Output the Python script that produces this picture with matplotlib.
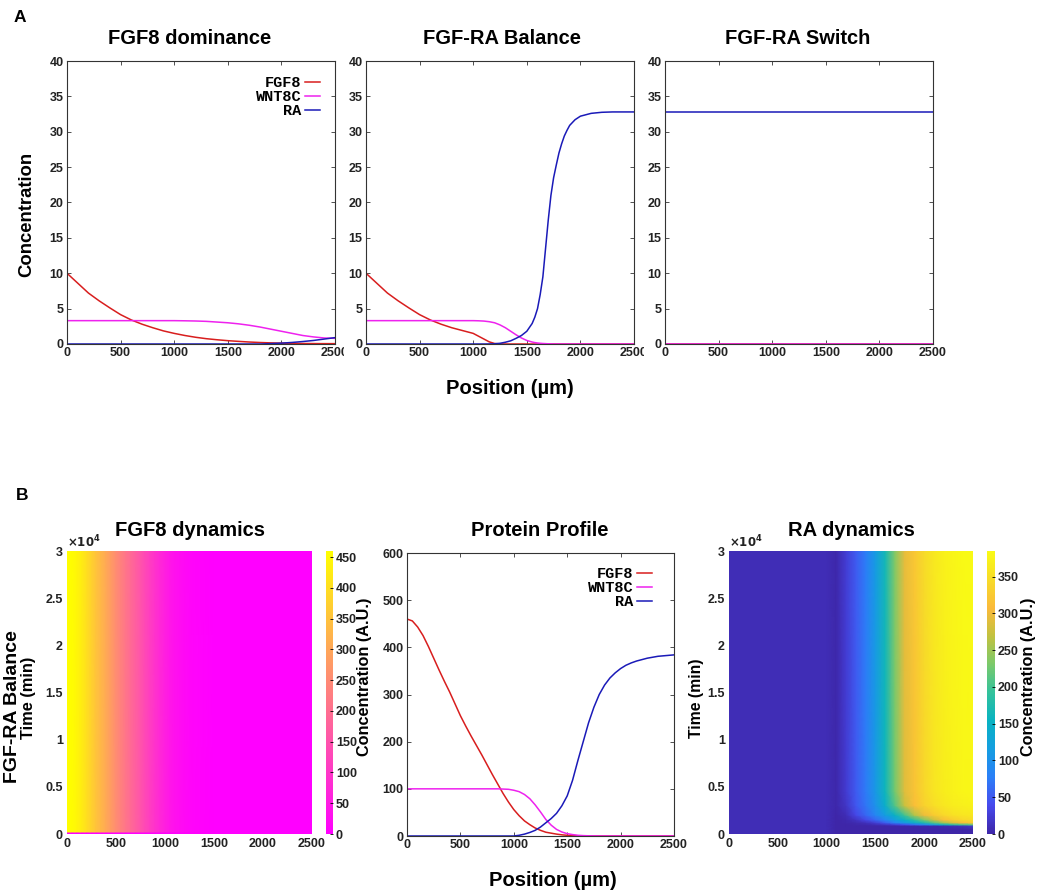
import matplotlib.pyplot as plt
import numpy as np
from matplotlib.colors import LinearSegmentedColormap
from matplotlib.font_manager import FontProperties
from matplotlib.transforms import Bbox, TransformedBbox

plt.rcParams['font.family'] = ['Liberation Sans', 'DejaVu Sans']
plt.rcParams['font.weight'] = 'bold'
plt.rcParams['axes.labelweight'] = 'bold'

# ---------------- data ----------------
# panel A1: FGF8 dominance (position in um)
pos_a1 = [0, 100, 200, 300, 400, 500, 600, 700, 800, 900, 1000, 1100, 1200,
          1300, 1400, 1500, 1600, 1700, 1800, 1900, 2000, 2100, 2200, 2300, 2400, 2500]
fgf8_a1 = [10, 8.6, 7.2, 6.1, 5.1, 4.15, 3.4, 2.8, 2.3, 1.85, 1.5, 1.2, 0.95,
           0.75, 0.6, 0.47, 0.37, 0.28, 0.21, 0.16, 0.12, 0.09, 0.07, 0.06, 0.05, 0.05]
wnt8c_a1 = [3.3, 3.3, 3.3, 3.3, 3.3, 3.3, 3.3, 3.3, 3.3, 3.3, 3.3, 3.28, 3.25,
            3.2, 3.1, 3.0, 2.85, 2.65, 2.4, 2.1, 1.8, 1.5, 1.2, 1.0, 0.85, 0.8]
ra_a1 = [0, 0, 0, 0, 0, 0, 0, 0, 0, 0, 0, 0, 0,
         0, 0, 0, 0, 0, 0, 0.05, 0.12, 0.22, 0.35, 0.5, 0.7, 0.9]

# panel A2: FGF-RA balance
pos_a2 = [0, 100, 200, 300, 400, 500, 600, 700, 800, 900, 1000, 1050, 1100, 1150,
          1200, 1250, 1300, 1350, 1400, 1450, 1500, 1550, 1575, 1600, 1625, 1650,
          1675, 1700, 1725, 1750, 1775, 1800, 1825, 1850, 1875, 1900, 1950, 2000,
          2100, 2200, 2300, 2400, 2500]
fgf8_a2 = [10, 8.6, 7.2, 6.1, 5.1, 4.15, 3.4, 2.8, 2.3, 1.9, 1.5, 1.1, 0.7, 0.3,
           0.07, 0.02, 0, 0, 0, 0, 0, 0, 0, 0, 0, 0,
           0, 0, 0, 0, 0, 0, 0, 0, 0, 0, 0, 0,
           0, 0, 0, 0, 0]
wnt8c_a2 = [3.3, 3.3, 3.3, 3.3, 3.3, 3.3, 3.3, 3.3, 3.3, 3.3, 3.3, 3.28, 3.24, 3.15,
            3.0, 2.7, 2.3, 1.8, 1.3, 0.85, 0.5, 0.28, 0.2, 0.14, 0.1, 0.07,
            0.05, 0.03, 0.02, 0, 0, 0, 0, 0, 0, 0, 0, 0,
            0, 0, 0, 0, 0]
ra_a2 = [0, 0, 0, 0, 0, 0, 0, 0, 0, 0, 0, 0, 0, 0.01,
         0.03, 0.1, 0.25, 0.45, 0.8, 1.2, 1.8, 2.9, 3.8, 5.0, 7.0, 9.5,
         13.5, 17.5, 21.0, 23.5, 25.3, 27.0, 28.3, 29.4, 30.2, 30.9, 31.7, 32.2,
         32.6, 32.75, 32.8, 32.8, 32.8]

# panel A3: FGF-RA switch
pos_a3 = [0, 2500]
fgf8_a3 = [0, 0]
wnt8c_a3 = [0, 0]
ra_a3 = [32.8, 32.8]

# panel B2: protein profile at the end of the run (every 50 um)
pos_b = list(range(0, 2501, 50))
fgf8_b = [460, 456, 443, 425, 402, 377, 352, 328, 305, 280, 255, 233, 212, 192, 172,
          151, 130, 110, 90, 72, 56, 43, 32, 24, 17, 12, 8, 6, 4, 2.5, 1.5, 1, 0.5,
          0.2, 0, 0, 0, 0, 0, 0, 0, 0, 0, 0, 0, 0, 0, 0, 0, 0, 0]
wnt8c_b = [100, 100, 100, 100, 100, 100, 100, 100, 100, 100, 100, 100, 100, 100,
           100, 100, 100, 100, 99.5, 99, 97, 94, 88, 79, 66, 51, 35, 23, 14, 8.5,
           5, 3, 1.5, 0.8, 0.4, 0.2, 0, 0, 0, 0, 0, 0, 0, 0, 0, 0, 0, 0, 0, 0, 0]
ra_b = [0, 0, 0, 0, 0, 0, 0, 0, 0, 0, 0, 0, 0, 0, 0, 0, 0, 0, 0, 0, 0,
        1.5, 4, 7.5, 12, 19, 28, 37, 48, 64, 85, 118, 160, 200, 240, 273, 300,
        320, 335, 346, 355, 362, 367, 371, 374, 377, 379, 381, 382, 383, 384]

# panel B1: FGF8 over time (min); zero at t=0, then the final profile
t_fgf8 = [0, 150, 250, 30000]
fgf8_map = [[0] * len(pos_b), [0] * len(pos_b), fgf8_b, fgf8_b]

# panel B3: RA over time
pos_ra_map = [0, 1000, 1100, 1200, 1300, 1400, 1500, 1600, 1700, 1800,
              1900, 2000, 2100, 2200, 2300, 2400, 2500]
t_ra = [0, 500, 850, 1000, 1200, 1500, 2000, 3000, 4500, 30000]
ra_map = [
    [8, 8, 0, 0, 0, 0, 0, 0, 0, 0, 0, 0, 0, 0, 0, 0, 0],
    [8, 8, 0, 0, 0, 0, 0, 0, 0, 0, 0, 0, 0, 0, 0, 1, 3],
    [8, 8, 0, 0, 0, 0, 0, 0, 0, 0, 1, 2, 3, 5, 8, 12, 20],
    [8, 8, 0, 0, 2, 4, 8, 14, 25, 42, 65, 90, 115, 150, 180, 200, 215],
    [8, 8, 0, 2, 6, 12, 25, 50, 80, 110, 140, 170, 210, 250, 285, 310, 325],
    [8, 8, 0, 4, 15, 35, 60, 85, 115, 150, 185, 230, 275, 310, 330, 342, 348],
    [8, 8, 1, 8, 35, 60, 85, 115, 150, 200, 260, 300, 325, 342, 352, 358, 362],
    [8, 8, 2, 18, 48, 70, 100, 145, 210, 275, 312, 335, 350, 360, 367, 371, 374],
    [8, 8, 2, 23, 50, 74, 108, 160, 228, 290, 318, 341, 357, 367, 374, 378, 380],
    [8, 8, 2, 25, 50, 76, 112, 166, 236, 296, 322, 345, 362, 372, 378, 382, 384],
]

# ---------------- style ----------------
W, H = 1039, 896
c_fgf8, c_wnt8c, c_ra = '#d81e1e', '#ee22ee', '#1a1ab8'
parula = LinearSegmentedColormap.from_list('parula', [
    (0.00, (0.2422, 0.1504, 0.6603)),
    (0.10, (0.2780, 0.2900, 0.9300)),
    (0.20, (0.1700, 0.5000, 0.9700)),
    (0.30, (0.0800, 0.6200, 0.8800)),
    (0.40, (0.0300, 0.7000, 0.7600)),
    (0.50, (0.2000, 0.7600, 0.6100)),
    (0.60, (0.4800, 0.7900, 0.4200)),
    (0.70, (0.7600, 0.7600, 0.2500)),
    (0.80, (0.9800, 0.7300, 0.2300)),
    (0.90, (0.9700, 0.8600, 0.1600)),
    (1.00, (0.9769, 0.9839, 0.0805)),
])
legend_font = FontProperties(family='Liberation Mono', weight='bold', size=11)
TICK = 9


def box(l, t, r, b):
    return [l / W, 1 - b / H, (r - l) / W, (b - t) / H]


def style_line_axes(ax, ymax, ystep):
    ax.set_xlim(0, 2500)
    ax.set_ylim(0, ymax)
    ax.set_xticks(range(0, 2501, 500))
    ax.set_yticks(np.arange(0, ymax + 1, ystep))
    ax.tick_params(direction='in', top=True, right=True, length=3, width=0.6,
                   labelsize=TICK, pad=2.5, color='#333333', labelcolor='#222222')
    for s in ax.spines.values():
        s.set_linewidth(0.8)
        s.set_color('#333333')


def add_legend(ax, x_right, y_top):
    ax.legend(loc='upper right', bbox_to_anchor=(x_right / W, 1 - y_top / H),
              bbox_transform=fig.transFigure, markerfirst=False, frameon=False,
              prop=legend_font, handlelength=1.0, handletextpad=0.2,
              labelspacing=0.0, borderaxespad=0, borderpad=0)


def style_map_axes(ax):
    ax.set_xlim(0, 2500)
    ax.set_ylim(0, 30000)
    ax.set_xticks(range(0, 2501, 500))
    ax.set_yticks(range(0, 30001, 5000))
    ax.set_yticklabels(['0', '0.5', '1', '1.5', '2', '2.5', '3'])
    ax.tick_params(length=0, labelsize=TICK, pad=3, labelcolor='#222222')
    for s in ax.spines.values():
        s.set_visible(False)
    ax.text(0.0, 1.003, r'$\times10^{4}$', transform=ax.transAxes, fontsize=8.5,
            ha='left', va='bottom', color='#222222')


def style_cbar(cb, ticks):
    cb.set_ticks(ticks)
    cb.ax.tick_params(direction='in', length=2, width=0.6, labelsize=TICK, pad=2,
                      labelcolor='#222222')
    cb.outline.set_visible(False)


fig = plt.figure(figsize=(10.39, 8.96), dpi=100)

# ---------------- row A ----------------
ax1 = fig.add_axes(box(67, 61, 335, 344))
ax2 = fig.add_axes(box(366, 61, 634, 344))
ax3 = fig.add_axes(box(665, 61, 933, 344))
for ax, pos, f, w, r in [(ax1, pos_a1, fgf8_a1, wnt8c_a1, ra_a1),
                         (ax2, pos_a2, fgf8_a2, wnt8c_a2, ra_a2),
                         (ax3, pos_a3, fgf8_a3, wnt8c_a3, ra_a3)]:
    ax.plot(pos, f, color=c_fgf8, lw=1.1, label='FGF8')
    ax.plot(pos, w, color=c_wnt8c, lw=1.1, label='WNT8C')
    ax.plot(pos, r, color=c_ra, lw=1.1, label='RA')
    style_line_axes(ax, 40, 5)

add_legend(ax1, 320, 76)

# the last x label of A1 and A2 is cut by the next panel
for ax, xclip in [(ax1, 344), (ax2, 644)]:
    lbl = ax.get_xticklabels()[-1]
    lbl.set_clip_box(TransformedBbox(Bbox.from_extents(0, 0, xclip / W, 1), fig.transFigure))
    lbl.set_clip_on(True)

fig.text(20 / W, 1 - 18 / H, 'A', fontsize=12.5, ha='center', va='center')
fig.text(190 / W, 1 - 38 / H, 'FGF8 dominance', fontsize=14.5, ha='center', va='center')
fig.text(502 / W, 1 - 38 / H, 'FGF-RA Balance', fontsize=14.5, ha='center', va='center')
fig.text(798 / W, 1 - 38 / H, 'FGF-RA Switch', fontsize=14.5, ha='center', va='center')
fig.text(27 / W, 1 - 214 / H, 'Concentration', fontsize=13.3, rotation=90,
         ha='center', va='center')
fig.text(510 / W, 1 - 388 / H, 'Position (µm)', fontsize=14.5, ha='center', va='center')

# ---------------- row B ----------------
bx1 = fig.add_axes(box(67, 551, 312, 834))
cax1 = fig.add_axes(box(326, 551, 333, 834))
X1, T1 = np.meshgrid(pos_b, t_fgf8)
m1 = bx1.pcolormesh(X1, T1, np.array(fgf8_map), cmap='spring', vmin=0, vmax=460,
                    shading='gouraud')
style_map_axes(bx1)
cb1 = fig.colorbar(m1, cax=cax1)
style_cbar(cb1, range(0, 451, 50))

bx2 = fig.add_axes(box(407, 553, 674, 836))
bx2.plot(pos_b, fgf8_b, color=c_fgf8, lw=1.1, label='FGF8')
bx2.plot(pos_b, wnt8c_b, color=c_wnt8c, lw=1.1, label='WNT8C')
bx2.plot(pos_b, ra_b, color=c_ra, lw=1.1, label='RA')
style_line_axes(bx2, 600, 100)
add_legend(bx2, 652, 567)

bx3 = fig.add_axes(box(729, 551, 973, 834))
cax3 = fig.add_axes(box(987, 551, 995, 834))
X3, T3 = np.meshgrid(pos_ra_map, t_ra)
m3 = bx3.pcolormesh(X3, T3, np.array(ra_map), cmap=parula, vmin=0, vmax=385,
                    shading='gouraud')
style_map_axes(bx3)
cb3 = fig.colorbar(m3, cax=cax3)
style_cbar(cb3, range(0, 351, 50))

fig.text(22 / W, 1 - 495 / H, 'B', fontsize=12.5, ha='center', va='center')
fig.text(190 / W, 1 - 530 / H, 'FGF8 dynamics', fontsize=14.5, ha='center', va='center')
fig.text(540 / W, 1 - 530 / H, 'Protein Profile', fontsize=14.5, ha='center', va='center')
fig.text(851 / W, 1 - 530 / H, 'RA dynamics', fontsize=14.5, ha='center', va='center')
fig.text(13 / W, 1 - 707 / H, 'FGF-RA Balance', fontsize=14, rotation=90,
         ha='center', va='center')
fig.text(29 / W, 1 - 698 / H, 'Time (min)', fontsize=11.8, rotation=90,
         ha='center', va='center')
fig.text(365 / W, 1 - 677 / H, 'Concentration (A.U.)', fontsize=11.7, rotation=90,
         ha='center', va='center')
fig.text(697 / W, 1 - 698 / H, 'Time (min)', fontsize=11.3, rotation=90,
         ha='center', va='center')
fig.text(1028 / W, 1 - 677 / H, 'Concentration (A.U.)', fontsize=11.7, rotation=90,
         ha='center', va='center')
fig.text(553 / W, 1 - 880 / H, 'Position (µm)', fontsize=14.5, ha='center', va='center')

fig.savefig('out.png', dpi=100, facecolor='white')
